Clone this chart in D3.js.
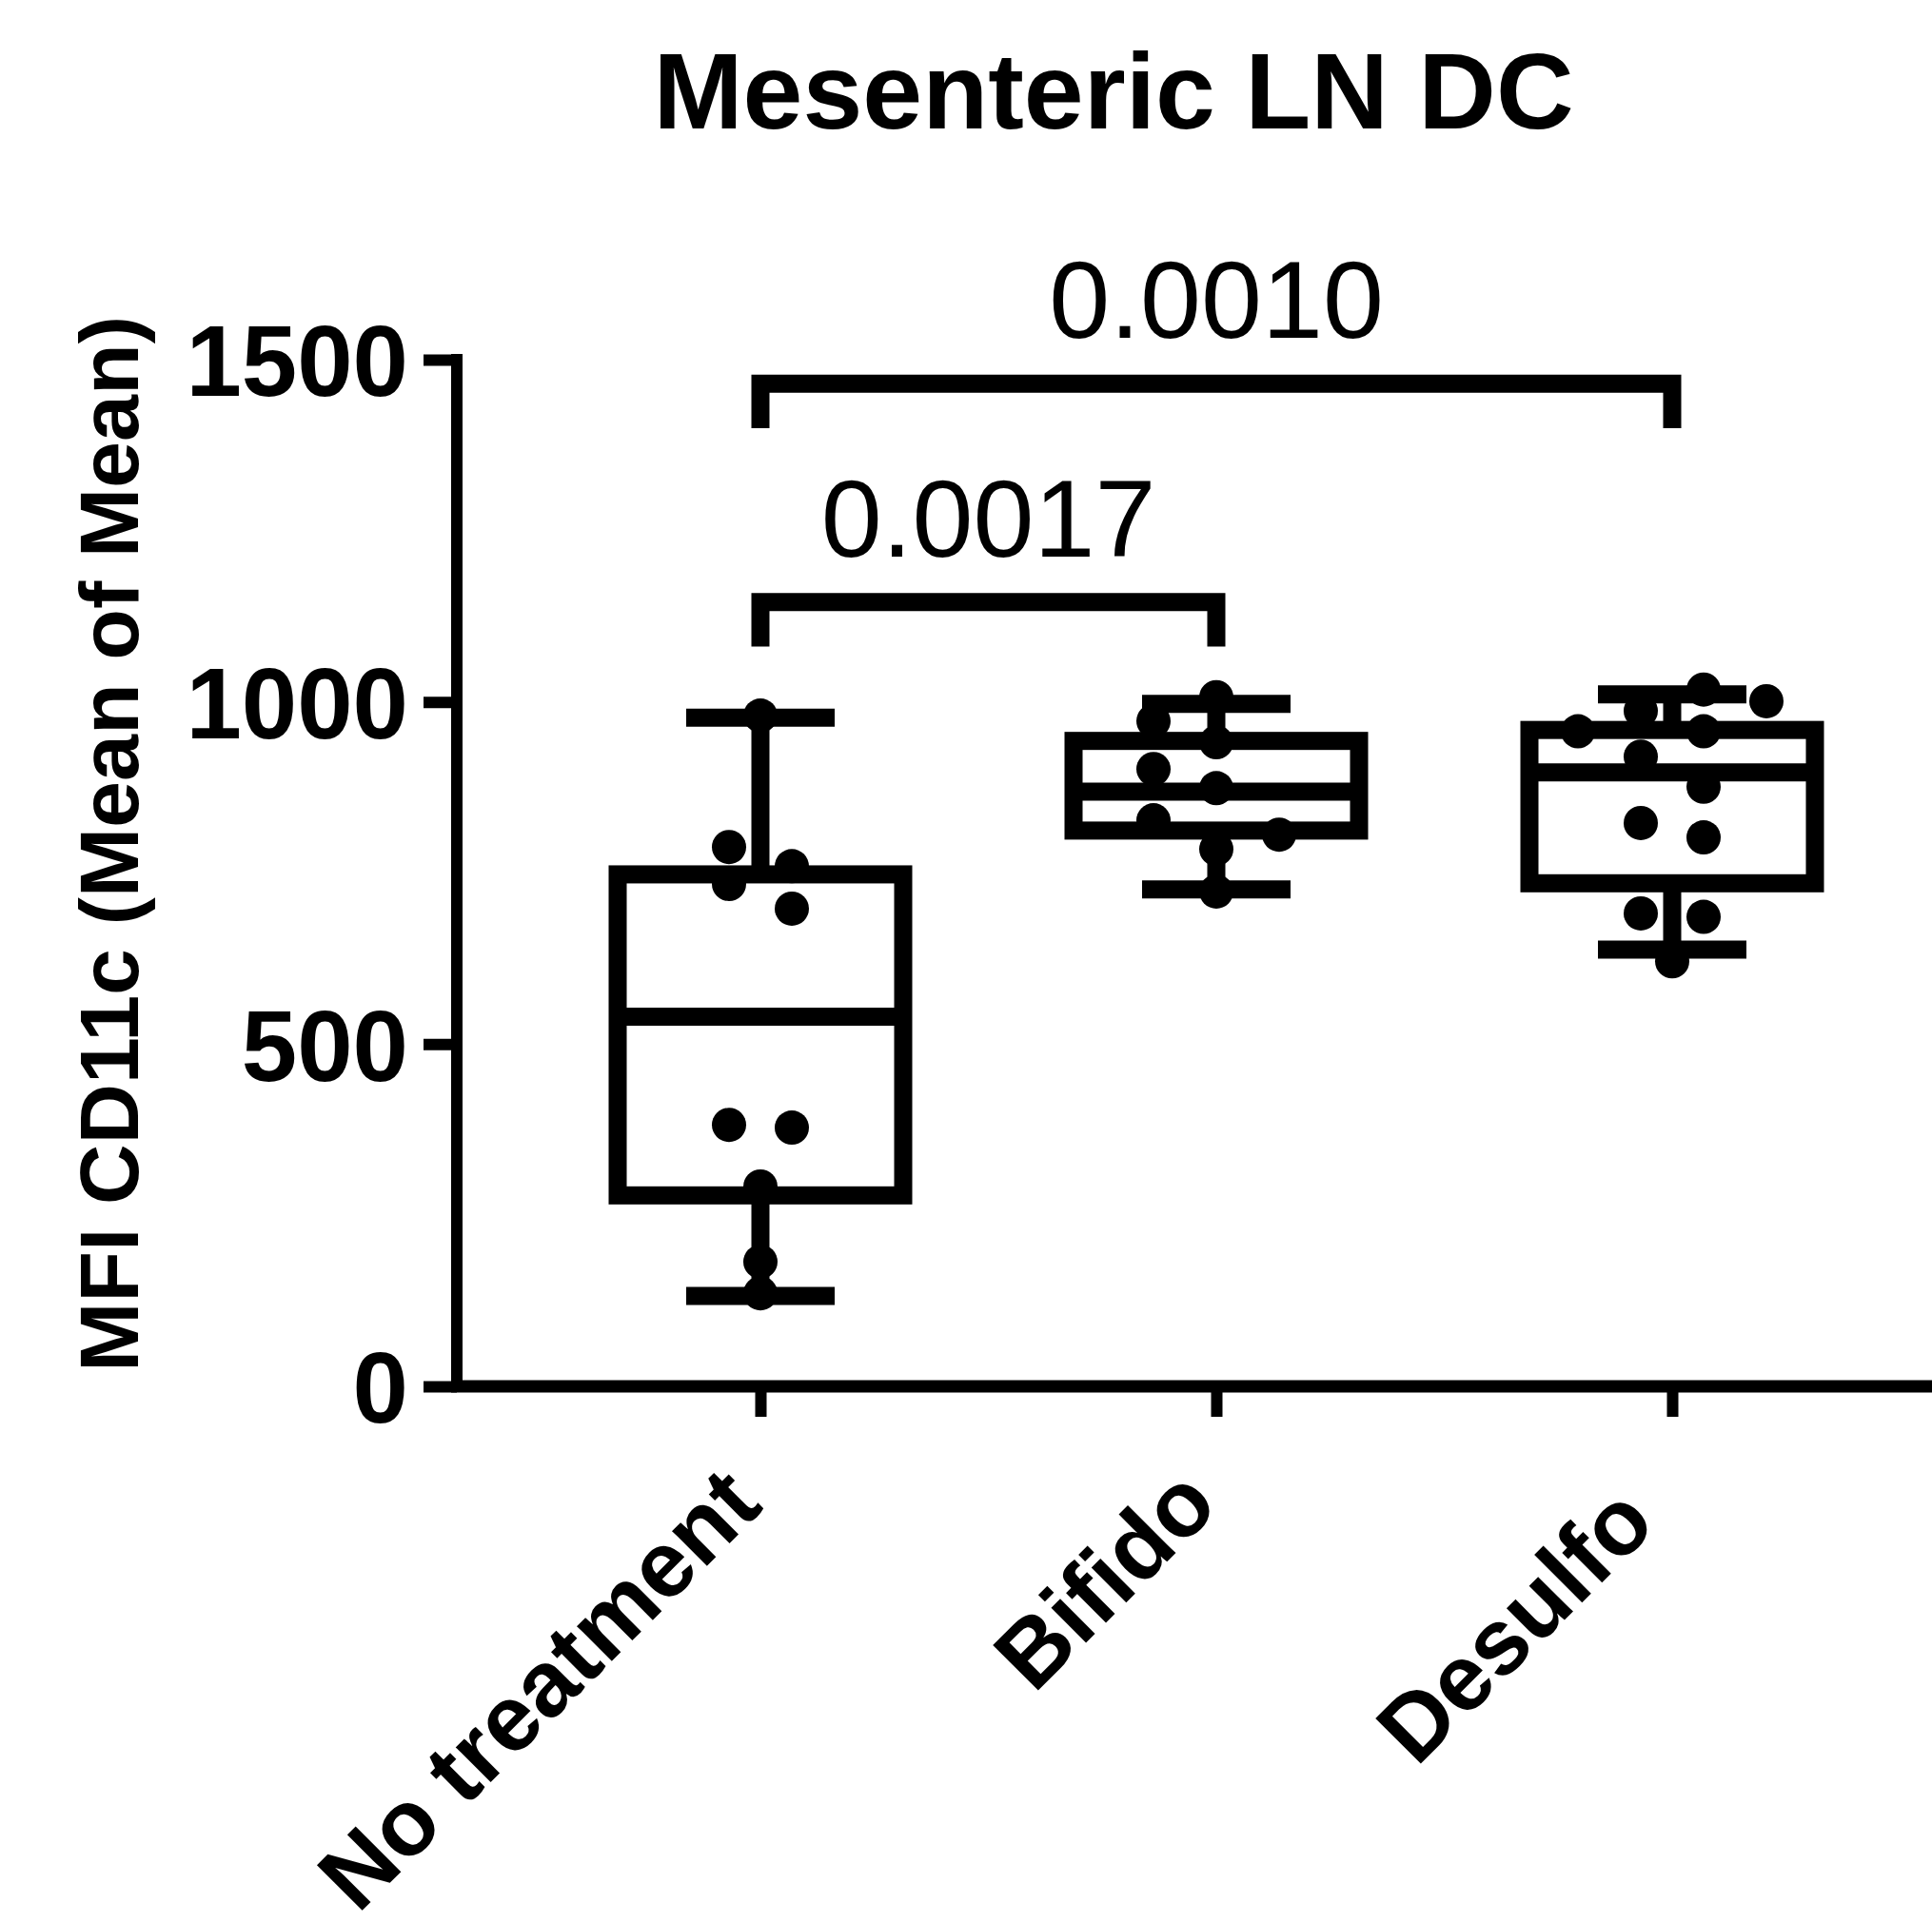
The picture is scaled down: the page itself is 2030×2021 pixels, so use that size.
<!DOCTYPE html>
<html>
<head>
<meta charset="utf-8">
<script src="https://cdn.jsdelivr.net/npm/d3@7"></script>
<style>
  html, body { margin: 0; padding: 0; background: #fff; }
  svg { display: block; }
  text { font-family: "Liberation Sans", Arial, Helvetica, sans-serif; fill: #000;
         font-variant-ligatures: none; font-feature-settings: "liga" 0; white-space: pre; }
</style>
</head>
<body>
<svg id="chart" width="2030" height="2021"></svg>
<script>
// ---------------- data ----------------
const categories = ["No treatment", "Bifido", "Desulfo "];

// individual points (MFI CD11c)
const noTreatmentValues = [980, 788, 760, 734, 698, 382, 378, 292, 182, 136];
const bifidoValues      = [1007, 972, 941, 902, 874, 827, 806, 785, 723];
const desulfoValues     = [1018, 1001, 987, 957, 957, 920, 876, 823, 802, 691, 686, 621];

// swarm slot of each point (in half dot-spacings, left negative)
const noTreatmentSlots = [0, -1, 1, -1, 1, -1, 1, 0, 0, 0];
const bifidoSlots      = [0, -2, 0, -2, 0, -2, 2, 0, 0];
const desulfoSlots     = [1, 3, -1, -3, 1, -1, 1, -1, 1, -1, 1, 0];

// box-and-whisker statistics (min, Q1, median, Q3, max)
const boxMin    = [132, 726, 638];
const boxQ1     = [279, 812, 735];
const boxMedian = [540, 869, 897];
const boxQ3     = [748, 943, 959];
const boxMax    = [977, 997, 1011];

// y-axis ticks
const yTicks = [0, 500, 1000, 1500];

// significance comparisons (group indices)
const compFrom   = [0, 0];
const compTo     = [1, 2];
const compLevel  = [1146, 1465];
const compLabels = ["0.0017", "0.0010"];

const title  = "Mesenteric LN DC";
const yTitle = "MFI CD11c (Mean of Mean)";

// ---------------- layout ----------------
const svg = d3.select("#chart");
const axisX0 = 480, axisY0 = 1457, plotTop = 378, plotRight = 2030;
const y = d3.scaleLinear().domain([0, 1500]).range([axisY0, plotTop]);
const x = d3.scalePoint().domain(categories).range([799, 1757]);
const slot = d3.scaleLinear().domain([-1, 1]).range([-33, 33]);

const boxHalf = 150, capHalf = 78, lineW = 19, dotR = 18;

svg.append("rect").attr("width", 2030).attr("height", 2021).attr("fill", "#fff");

// title
svg.append("text")
  .attr("x", 1170).attr("y", 135)
  .attr("text-anchor", "middle")
  .attr("font-weight", "bold").attr("font-size", 113)
  .text(title);

// y axis
const yAxis = svg.append("g")
  .attr("transform", `translate(${axisX0},0)`)
  .call(d3.axisLeft(y).tickValues(yTicks).tickSize(35).tickSizeOuter(0).tickPadding(16).tickFormat(d3.format("d")));
yAxis.select(".domain").attr("stroke", "#000").attr("stroke-width", 12)
  .attr("d", `M0,${axisY0 + 6}V${plotTop - 6}`);
yAxis.selectAll(".tick line").attr("stroke", "#000").attr("stroke-width", 12);
yAxis.selectAll(".tick text")
  .attr("font-family", "'Liberation Sans', Arial, Helvetica, sans-serif")
  .attr("font-weight", "bold").attr("font-size", 105).attr("fill", "#000")
  .attr("dy", "0.36em");

// x axis
const xAxis = svg.append("g")
  .attr("transform", `translate(0,${axisY0})`)
  .call(d3.axisBottom(x).tickSize(32).tickSizeOuter(0));
xAxis.select(".domain").attr("stroke", "#000").attr("stroke-width", 13)
  .attr("d", `M${axisX0 - 6},0H${plotRight}`);
xAxis.selectAll(".tick line").attr("stroke", "#000").attr("stroke-width", 12);
xAxis.selectAll(".tick text")
  .attr("font-family", "'Liberation Sans', Arial, Helvetica, sans-serif")
  .attr("font-weight", "bold").attr("font-size", 98).attr("fill", "#000")
  .attr("text-anchor", "end")
  .attr("x", 0).attr("y", 0).attr("dy", 0)
  .attr("transform", "translate(4,128) rotate(-45)");

// y title
svg.append("text")
  .attr("transform", `translate(145,887) rotate(-90)`)
  .attr("text-anchor", "middle")
  .attr("font-weight", "bold").attr("font-size", 88)
  .text(yTitle);

// boxes
const stats = categories.map((c, i) => ({
  cat: c, min: boxMin[i], q1: boxQ1[i], med: boxMedian[i], q3: boxQ3[i], max: boxMax[i]
}));
const boxes = svg.append("g").attr("stroke", "#000").attr("fill", "none").attr("stroke-width", lineW);
stats.forEach(s => {
  const cx = x(s.cat);
  boxes.append("rect")
    .attr("x", cx - boxHalf).attr("width", boxHalf * 2)
    .attr("y", y(s.q3)).attr("height", y(s.q1) - y(s.q3));
  boxes.append("line").attr("x1", cx - boxHalf).attr("x2", cx + boxHalf)
    .attr("y1", y(s.med)).attr("y2", y(s.med));
  boxes.append("line").attr("x1", cx).attr("x2", cx).attr("y1", y(s.q3)).attr("y2", y(s.max));
  boxes.append("line").attr("x1", cx).attr("x2", cx).attr("y1", y(s.q1)).attr("y2", y(s.min));
  boxes.append("line").attr("x1", cx - capHalf).attr("x2", cx + capHalf).attr("y1", y(s.max)).attr("y2", y(s.max));
  boxes.append("line").attr("x1", cx - capHalf).attr("x2", cx + capHalf).attr("y1", y(s.min)).attr("y2", y(s.min));
});

// points
const groups = [
  { cat: categories[0], vals: noTreatmentValues, slots: noTreatmentSlots },
  { cat: categories[1], vals: bifidoValues, slots: bifidoSlots },
  { cat: categories[2], vals: desulfoValues, slots: desulfoSlots }
];
const pts = [];
groups.forEach(g => g.vals.forEach((v, i) => pts.push({ cat: g.cat, v, s: g.slots[i] })));
svg.append("g").selectAll("circle").data(pts).join("circle")
  .attr("cx", d => x(d.cat) + slot(d.s))
  .attr("cy", d => y(d.v))
  .attr("r", dotR)
  .attr("fill", "#000");

// significance brackets
const legDrop = 65;
compLabels.forEach((lab, i) => {
  const x1 = x(categories[compFrom[i]]), x2 = x(categories[compTo[i]]);
  const yb = y(compLevel[i]), yl = y(compLevel[i] - legDrop);
  svg.append("path")
    .attr("d", `M${x1},${yl}V${yb}H${x2}V${yl}`)
    .attr("fill", "none").attr("stroke", "#000").attr("stroke-width", lineW)
    .attr("stroke-linejoin", "miter");
  svg.append("text")
    .attr("x", (x1 + x2) / 2).attr("y", yb - 48)
    .attr("text-anchor", "middle")
    .attr("font-size", 115)
    .text(lab);
});
</script>
</body>
</html>
